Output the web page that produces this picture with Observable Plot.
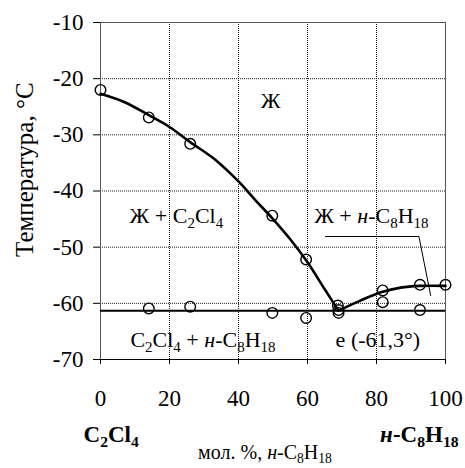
<!DOCTYPE html>
<html><head><meta charset="utf-8">
<script src="https://cdn.jsdelivr.net/npm/d3@7"></script>
<script src="https://cdn.jsdelivr.net/npm/@observablehq/plot@0.6"></script>
<style>
body{margin:0;background:#fff}
svg{display:block}
#chart svg, #chart svg text, #chart svg tspan {font-family: "Liberation Serif", "Times New Roman", serif !important;}
</style>
</head><body><div id="chart"></div>
<script>
// Experimental liquidus points (mol.% n-C8H18, °C)
const liqX = [0, 14, 26, 49.8, 59.6, 68.8, 81.8, 92.6, 100];
const liqY = [-22, -26.9, -31.6, -44.4, -52.2, -60.4, -57.7, -56.7, -56.7];
// Experimental solidus (eutectic) points
const solX = [14, 26, 49.8, 59.6, 69, 69, 81.8, 92.6];
const solY = [-60.9, -60.6, -61.7, -62.6, -61.2, -61.7, -59.8, -61.2];
// Smoothed liquidus curve (two branches meeting at the eutectic)
const curveX = [0, 7, 14, 20, 26, 33, 40, 45, 50, 55, 60, 65, 69, 69, 75, 81.5, 87, 92.5, 100];
const curveY = [-22.7, -24.2, -26.5, -28.6, -31.3, -34.3, -38.3, -41.7, -45, -48.6, -52.7, -57.5, -61.3, -61.3, -59.6, -58, -57.2, -56.9, -56.9];
const curveBranch = ["a","a","a","a","a","a","a","a","a","a","a","a","a","b","b","b","b","b","b"];
const eutecticT = -61.3;
// Leader line to the "Ж + н-C8H18" field
const leaderX = [65.2, 92.3, 95.7];
const leaderY = [-48.1, -48.1, -58.6];
// Axis ticks
const xTicks = [0, 20, 40, 60, 80, 100];
const yTicks = [-70, -60, -50, -40, -30, -20, -10];
// Field labels
const fieldText = ["Ж", "Ж + C<sub>2</sub>Cl<sub>4</sub>", "Ж + <i>н</i>-C<sub>8</sub>H<sub>18</sub>", "C<sub>2</sub>Cl<sub>4</sub> + <i>н</i>-C<sub>8</sub>H<sub>18</sub>", "e (-61,3°)"];
const fieldX = [49.3, 22.0, 78.5, 29.7, 80.4];
const fieldY = [-23.9, -44.4, -44.4, -66.6, -66.6];
// Axis title (placed left of the frame, in data units)
const yTitle = "Температура, °C";
const yTitleX = -22.0;
const yTitleY = -36.2;

const curve = curveX.map((x, i) => ({x, y: curveY[i], b: curveBranch[i]}));
const pts = liqX.map((x, i) => ({x, y: liqY[i]})).concat(solX.map((x, i) => ({x, y: solY[i]})));
const leader = leaderX.map((x, i) => ({x, y: leaderY[i]}));
const fields = fieldText.map((t, i) => ({t, x: fieldX[i], y: fieldY[i]}));

const grid = {stroke: "#000", strokeOpacity: 0.9, strokeDasharray: "1,1"};
const chart = Plot.plot({
  width: 465, height: 468,
  marginLeft: 100, marginRight: 20, marginTop: 22, marginBottom: 109,
  style: {fontFamily: "Liberation Serif", fontSize: "22px", color: "#000", background: "#fff"},
  x: {domain: [0, 100]},
  y: {domain: [-70, -10]},
  marks: [
    Plot.gridX(xTicks.slice(1, -1), grid),
    Plot.gridY(yTicks.slice(1, -1), grid),
    Plot.frame({stroke: "#555"}),
    Plot.ruleY([-70], {stroke: "#000"}),
    Plot.axisY({ticks: yTicks, tickSize: 7, tickPadding: 10, tickFormat: d => String(d), label: null, stroke: "#000", fontSize: 23}),
    Plot.axisX({ticks: xTicks, tickSize: 5, tickPadding: 25, tickFormat: d => String(d), label: null, stroke: "#000", fontSize: 23}),
    Plot.ruleY([eutecticT], {stroke: "#000", strokeWidth: 2}),
    Plot.line(curve, {x: "x", y: "y", z: "b", curve: "catmull-rom", stroke: "#000", strokeWidth: 2.6}),
    Plot.line(leader, {x: "x", y: "y", stroke: "#000", strokeWidth: 1}),
    Plot.dot(pts, {x: "x", y: "y", r: 5.3, stroke: "#000", strokeWidth: 1.4, fill: "none"}),
    Plot.text(fields, {x: "x", y: "y", text: "t", fill: "#000", fontSize: 22}),
    Plot.text([yTitle], {x: () => yTitleX, y: () => yTitleY, rotate: -90, fill: "#000", fontSize: 25}),
    Plot.text(["C<sub>2</sub>Cl<sub>4</sub>"], {frameAnchor: "bottom-left", textAnchor: "start", dx: -17, dy: 82, fill: "#000", fontSize: 23, fontWeight: "bold"}),
    Plot.text(["<i>н</i>-C<sub>8</sub>H<sub>18</sub>"], {frameAnchor: "bottom-right", textAnchor: "end", dx: 13, dy: 82, fill: "#000", fontSize: 23, fontWeight: "bold"}),
    Plot.text(["мол. %, <i>н</i>-C<sub>8</sub>H<sub>18</sub>"], {frameAnchor: "bottom", dx: -8, dy: 99, fill: "#000", fontSize: 20})
  ]
});
document.getElementById("chart").appendChild(chart);

// Render simple <sub>/<i> markup in text labels as SVG tspans
const NS = "http://www.w3.org/2000/svg";
chart.querySelectorAll("text").forEach(t => {
  t.setAttribute("font-family", "Liberation Serif");
  const s = t.textContent;
  if (!/<(sub|i)>/.test(s)) return;
  const fs = parseFloat(getComputedStyle(t).fontSize);
  while (t.firstChild) t.removeChild(t.firstChild);
  const re = /<(sub|i)>(.*?)<\/\1>|([^<]+)/g;
  let m, shift = 0;
  while ((m = re.exec(s))) {
    const ts = document.createElementNS(NS, "tspan");
    if (m[1] === "sub") {
      ts.textContent = m[2];
      ts.setAttribute("font-size", (fs * 0.68).toFixed(2));
      const d = fs * 0.22 - shift;
      if (d) ts.setAttribute("dy", d.toFixed(2));
      shift = fs * 0.22;
    } else {
      ts.textContent = m[1] ? m[2] : m[3];
      if (m[1] === "i") ts.setAttribute("font-style", "italic");
      if (shift) { ts.setAttribute("dy", (-shift).toFixed(2)); shift = 0; }
    }
    t.appendChild(ts);
  }
});
</script></body></html>
